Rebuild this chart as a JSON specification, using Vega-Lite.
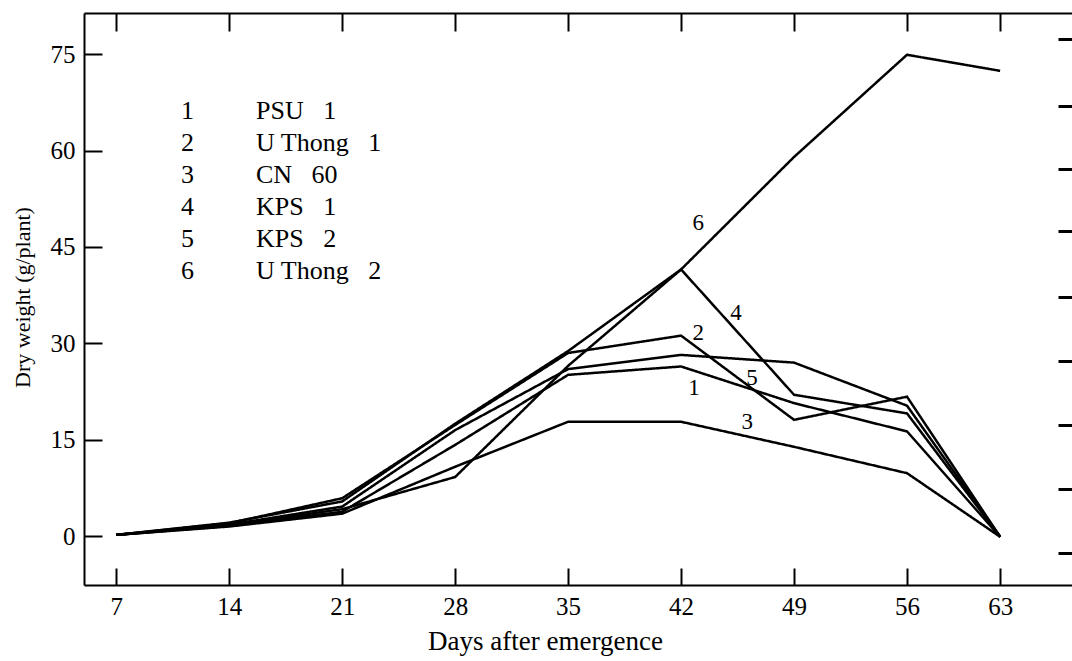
{
  "$schema": "https://vega.github.io/schema/vega-lite/v6.json",
  "width": 988,
  "height": 572,
  "autosize": {"type": "none"},
  "padding": {"left": 84, "top": 13, "right": 0, "bottom": 76},
  "background": "white",
  "config": {
    "view": {"stroke": null},
    "font": "Liberation Serif",
    "axis": {
      "grid": false,
      "domainColor": "black",
      "tickColor": "black",
      "labelColor": "black",
      "titleColor": "black",
      "labelFont": "Liberation Serif",
      "titleFont": "Liberation Serif",
      "titleFontWeight": "normal"
    },
    "legend": {
      "labelFont": "Liberation Serif",
      "labelColor": "black",
      "labelFontSize": 26,
      "labelLimit": 400,
      "padding": 0,
      "symbolSize": 0,
      "symbolOpacity": 0,
      "symbolStrokeWidth": 0,
      "symbolType": "circle",
      "labelOffset": 0,
      "rowPadding": 6,
      "columns": 1,
      "direction": "vertical"
    }
  },
  "datasets": {
    "series": [
      {"num": "1", "name": "PSU\u00a0\u00a0\u00a01", "day": 7, "dw": 0.2},
      {"num": "1", "name": "PSU\u00a0\u00a0\u00a01", "day": 14, "dw": 1.6},
      {"num": "1", "name": "PSU\u00a0\u00a0\u00a01", "day": 21, "dw": 3.8},
      {"num": "1", "name": "PSU\u00a0\u00a0\u00a01", "day": 28, "dw": 14.2},
      {"num": "1", "name": "PSU\u00a0\u00a0\u00a01", "day": 35, "dw": 25.1},
      {"num": "1", "name": "PSU\u00a0\u00a0\u00a01", "day": 42, "dw": 26.4},
      {"num": "1", "name": "PSU\u00a0\u00a0\u00a01", "day": 49, "dw": 20.7},
      {"num": "1", "name": "PSU\u00a0\u00a0\u00a01", "day": 56, "dw": 16.3},
      {"num": "1", "name": "PSU\u00a0\u00a0\u00a01", "day": 63, "dw": -0.1},
      {"num": "2", "name": "U Thong\u00a0\u00a0\u00a01", "day": 7, "dw": 0.2},
      {"num": "2", "name": "U Thong\u00a0\u00a0\u00a01", "day": 14, "dw": 2.0},
      {"num": "2", "name": "U Thong\u00a0\u00a0\u00a01", "day": 21, "dw": 5.9},
      {"num": "2", "name": "U Thong\u00a0\u00a0\u00a01", "day": 28, "dw": 17.3},
      {"num": "2", "name": "U Thong\u00a0\u00a0\u00a01", "day": 35, "dw": 28.5},
      {"num": "2", "name": "U Thong\u00a0\u00a0\u00a01", "day": 42, "dw": 31.2},
      {"num": "2", "name": "U Thong\u00a0\u00a0\u00a01", "day": 49, "dw": 18.1},
      {"num": "2", "name": "U Thong\u00a0\u00a0\u00a01", "day": 56, "dw": 21.7},
      {"num": "2", "name": "U Thong\u00a0\u00a0\u00a01", "day": 63, "dw": -0.1},
      {"num": "3", "name": "CN\u00a0\u00a0\u00a060", "day": 7, "dw": 0.2},
      {"num": "3", "name": "CN\u00a0\u00a0\u00a060", "day": 14, "dw": 1.5},
      {"num": "3", "name": "CN\u00a0\u00a0\u00a060", "day": 21, "dw": 3.5},
      {"num": "3", "name": "CN\u00a0\u00a0\u00a060", "day": 28, "dw": 10.8},
      {"num": "3", "name": "CN\u00a0\u00a0\u00a060", "day": 35, "dw": 17.8},
      {"num": "3", "name": "CN\u00a0\u00a0\u00a060", "day": 42, "dw": 17.8},
      {"num": "3", "name": "CN\u00a0\u00a0\u00a060", "day": 49, "dw": 13.9},
      {"num": "3", "name": "CN\u00a0\u00a0\u00a060", "day": 56, "dw": 9.8},
      {"num": "3", "name": "CN\u00a0\u00a0\u00a060", "day": 63, "dw": -0.1},
      {"num": "4", "name": "KPS\u00a0\u00a0\u00a01", "day": 7, "dw": 0.2},
      {"num": "4", "name": "KPS\u00a0\u00a0\u00a01", "day": 14, "dw": 2.1},
      {"num": "4", "name": "KPS\u00a0\u00a0\u00a01", "day": 21, "dw": 5.4},
      {"num": "4", "name": "KPS\u00a0\u00a0\u00a01", "day": 28, "dw": 17.5},
      {"num": "4", "name": "KPS\u00a0\u00a0\u00a01", "day": 35, "dw": 28.8},
      {"num": "4", "name": "KPS\u00a0\u00a0\u00a01", "day": 42, "dw": 41.5},
      {"num": "4", "name": "KPS\u00a0\u00a0\u00a01", "day": 49, "dw": 22.0},
      {"num": "4", "name": "KPS\u00a0\u00a0\u00a01", "day": 56, "dw": 19.1},
      {"num": "4", "name": "KPS\u00a0\u00a0\u00a01", "day": 63, "dw": -0.1},
      {"num": "5", "name": "KPS\u00a0\u00a0\u00a02", "day": 7, "dw": 0.2},
      {"num": "5", "name": "KPS\u00a0\u00a0\u00a02", "day": 14, "dw": 1.8},
      {"num": "5", "name": "KPS\u00a0\u00a0\u00a02", "day": 21, "dw": 4.6},
      {"num": "5", "name": "KPS\u00a0\u00a0\u00a02", "day": 28, "dw": 16.5},
      {"num": "5", "name": "KPS\u00a0\u00a0\u00a02", "day": 35, "dw": 26.0},
      {"num": "5", "name": "KPS\u00a0\u00a0\u00a02", "day": 42, "dw": 28.2},
      {"num": "5", "name": "KPS\u00a0\u00a0\u00a02", "day": 49, "dw": 27.0},
      {"num": "5", "name": "KPS\u00a0\u00a0\u00a02", "day": 56, "dw": 20.3},
      {"num": "5", "name": "KPS\u00a0\u00a0\u00a02", "day": 63, "dw": -0.1},
      {"num": "6", "name": "U Thong\u00a0\u00a0\u00a02", "day": 7, "dw": 0.2},
      {"num": "6", "name": "U Thong\u00a0\u00a0\u00a02", "day": 14, "dw": 1.7},
      {"num": "6", "name": "U Thong\u00a0\u00a0\u00a02", "day": 21, "dw": 4.2},
      {"num": "6", "name": "U Thong\u00a0\u00a0\u00a02", "day": 28, "dw": 9.2},
      {"num": "6", "name": "U Thong\u00a0\u00a0\u00a02", "day": 35, "dw": 26.5},
      {"num": "6", "name": "U Thong\u00a0\u00a0\u00a02", "day": 42, "dw": 41.5},
      {"num": "6", "name": "U Thong\u00a0\u00a0\u00a02", "day": 49, "dw": 59.0},
      {"num": "6", "name": "U Thong\u00a0\u00a0\u00a02", "day": 56, "dw": 74.9},
      {"num": "6", "name": "U Thong\u00a0\u00a0\u00a02", "day": 63, "dw": 72.4}
    ],
    "labels": [
      {"lab": "6", "day": 43.06, "dw": 48.7},
      {"lab": "4", "day": 45.4, "dw": 34.7},
      {"lab": "2", "day": 43.06, "dw": 31.6},
      {"lab": "5", "day": 46.4, "dw": 24.6},
      {"lab": "1", "day": 42.8, "dw": 23.0},
      {"lab": "3", "day": 46.1, "dw": 17.8}
    ]
  },
  "layer": [
    {
      "data": {"name": "series"},
      "mark": {"type": "line", "strokeWidth": 2.5, "color": "black"},
      "encoding": {
        "x": {
          "field": "day",
          "type": "quantitative",
          "scale": {"domain": [5, 56, 68.4], "range": [0, 823, 988], "nice": false, "zero": false},
          "axis": {
            "orient": "bottom",
            "values": [7, 14, 21, 28, 35, 42, 49, 56, 63],
            "format": "d",
            "tickSize": -17,
            "tickWidth": 2,
            "domainWidth": 2,
            "labelFontSize": 25,
            "labelPadding": 26,
            "labelFlush": false,
            "labelOverlap": false,
            "title": "Days after emergence",
            "titleFontSize": 27,
            "titleX": 461,
            "titleY": 56,
            "titleAlign": "center",
            "titleBaseline": "middle"
          }
        },
        "y": {
          "field": "dw",
          "type": "quantitative",
          "scale": {"domain": [-7.6, 81.4], "nice": false, "zero": false},
          "axis": {
            "orient": "left",
            "values": [0, 15, 30, 45, 60, 75],
            "tickSize": -18,
            "tickWidth": 2,
            "domainWidth": 2,
            "labelFontSize": 25,
            "labelPadding": 27,
            "title": "Dry weight (g/plant)",
            "titleFontSize": 22,
            "titleX": -62,
            "titleY": 284,
            "titleAngle": 270,
            "titleAlign": "center",
            "titleBaseline": "middle"
          }
        },
        "color": {
          "field": "num",
          "type": "nominal",
          "scale": {"domain": ["1", "2", "3", "4", "5", "6"], "range": ["black", "black", "black", "black", "black", "black"]},
          "legend": {"orient": "none", "legendX": 71, "legendY": 85, "title": null}
        },
        "strokeDash": {
          "field": "name",
          "type": "nominal",
          "scale": {
            "domain": ["PSU\u00a0\u00a0\u00a01", "U Thong\u00a0\u00a0\u00a01", "CN\u00a0\u00a0\u00a060", "KPS\u00a0\u00a0\u00a01", "KPS\u00a0\u00a0\u00a02", "U Thong\u00a0\u00a0\u00a02"],
            "range": [[1, 0], [1, 0], [1, 0], [1, 0], [1, 0], [1, 0]]
          },
          "legend": {"orient": "none", "legendX": 146, "legendY": 85, "title": null}
        }
      }
    },
    {
      "data": {"name": "labels"},
      "mark": {"type": "text", "font": "Liberation Serif", "fontSize": 23, "color": "black", "align": "center", "baseline": "middle"},
      "encoding": {
        "x": {
          "field": "day",
          "type": "quantitative",
          "scale": {"domain": [5, 56, 68.4], "range": [0, 823, 988], "nice": false, "zero": false},
          "axis": {
            "orient": "top",
            "values": [7, 14, 21, 28, 35, 42, 49, 56, 63],
            "tickSize": -18,
            "tickWidth": 2,
            "domainWidth": 2,
            "labels": false,
            "title": null
          }
        },
        "y": {
          "field": "dw",
          "type": "quantitative",
          "scale": {"domain": [-7.6, 81.4], "nice": false, "zero": false},
          "axis": {
            "orient": "right",
            "values": [-2.6, 7.3, 17.3, 27.3, 37.2, 47.5, 57.1, 67.0, 77.4],
            "tickSize": -14,
            "tickWidth": 3,
            "domain": false,
            "labels": false,
            "title": null
          }
        },
        "text": {"field": "lab", "type": "nominal"}
      }
    }
  ],
  "resolve": {"axis": {"x": "independent", "y": "independent"}}
}
